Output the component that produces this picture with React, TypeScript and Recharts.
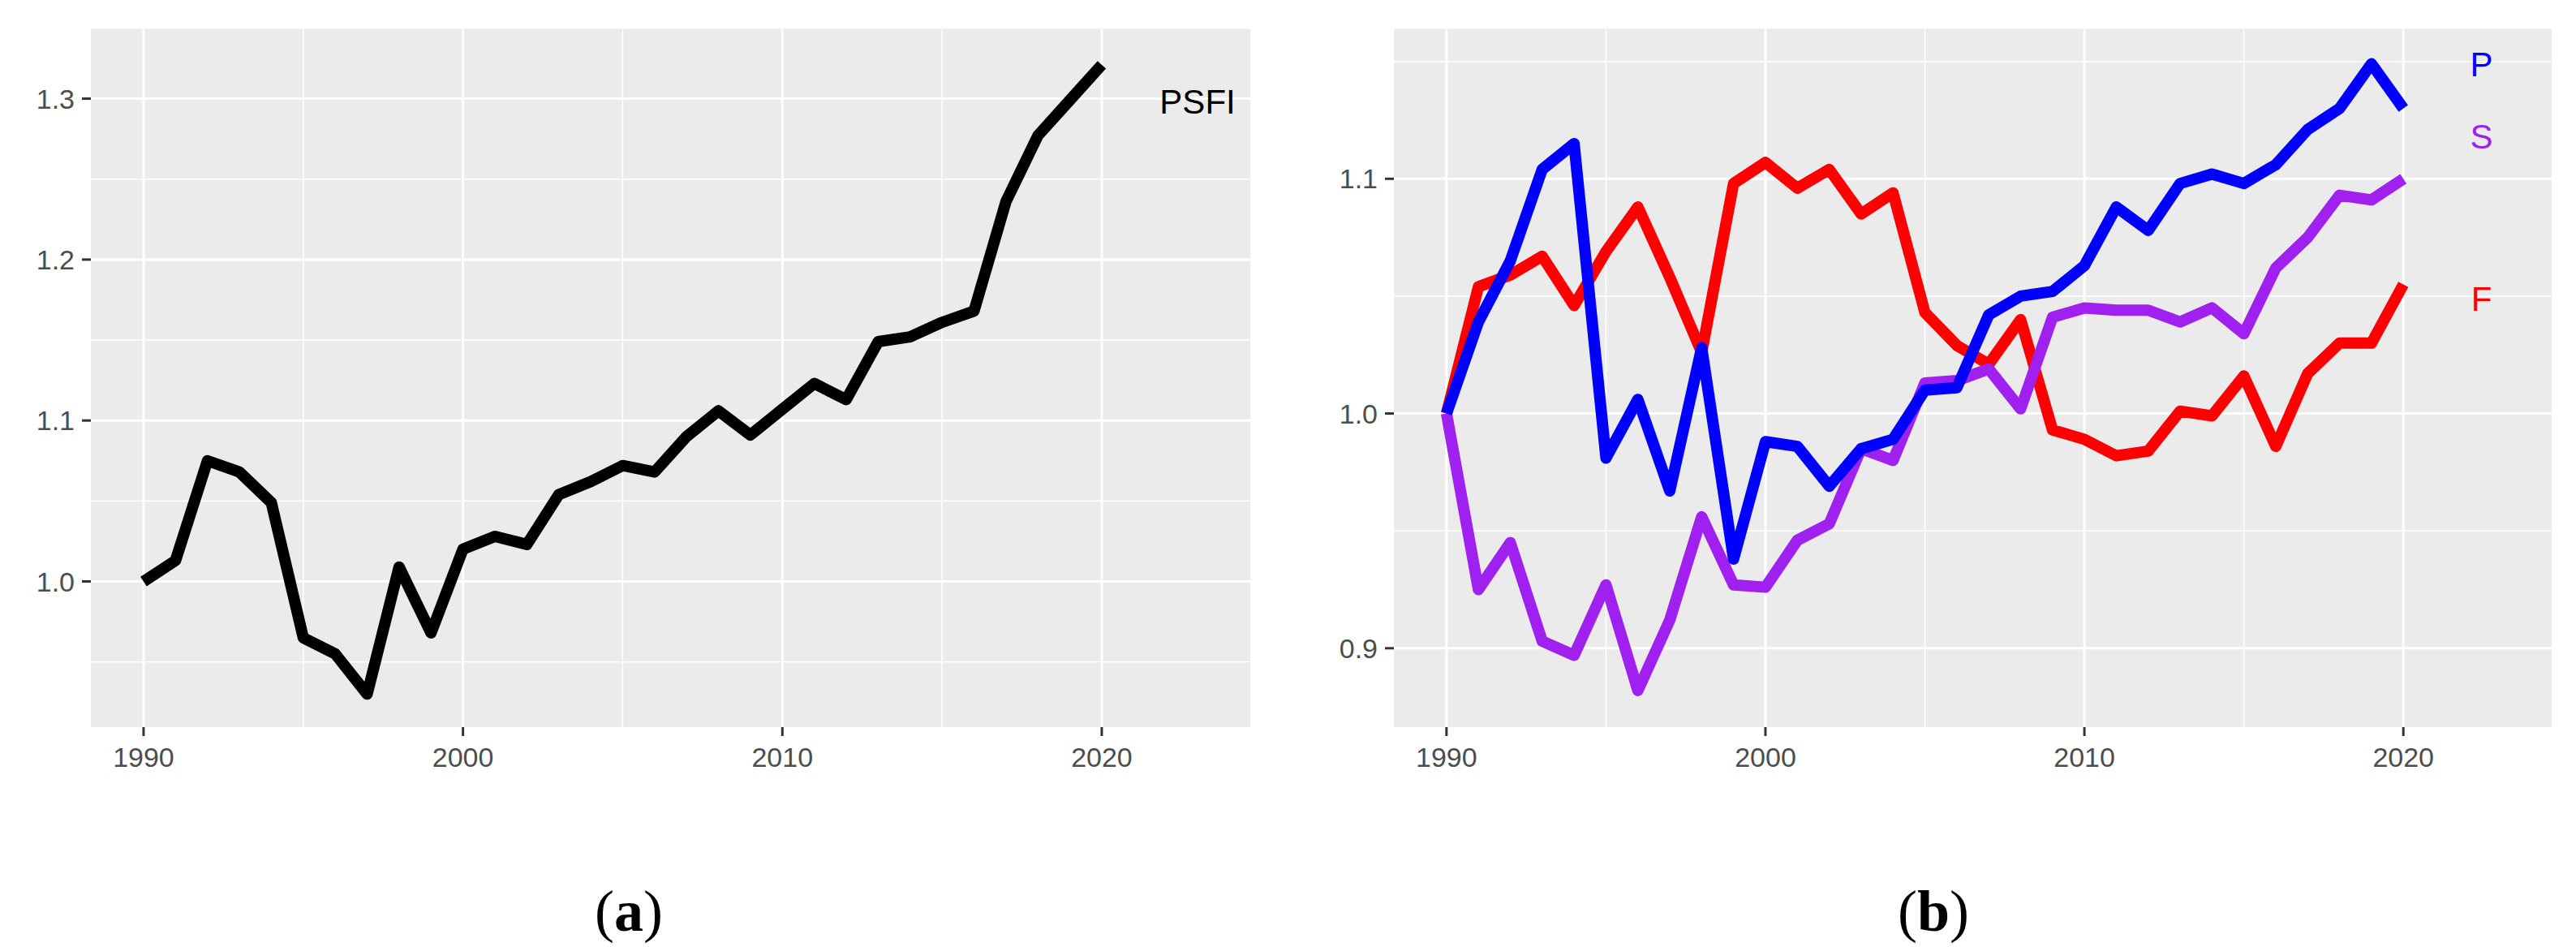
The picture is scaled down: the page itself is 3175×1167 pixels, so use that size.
import React from 'react';
import { LineChart, Line, XAxis, YAxis, CartesianGrid, ReferenceDot } from 'recharts';

const YEARS = [
  1990, 1991, 1992, 1993, 1994, 1995, 1996, 1997, 1998, 1999,
  2000, 2001, 2002, 2003, 2004, 2005, 2006, 2007, 2008, 2009,
  2010, 2011, 2012, 2013, 2014, 2015, 2016, 2017, 2018, 2019, 2020,
];

// panel (a)
const PSFI = [
  1.000, 1.013, 1.075, 1.068, 1.049, 0.965, 0.955, 0.930, 1.009, 0.968,
  1.020, 1.028, 1.023, 1.054, 1.062, 1.072, 1.068, 1.090, 1.106, 1.091,
  1.107, 1.123, 1.113, 1.149, 1.152, 1.161, 1.168, 1.236, 1.277, 1.299, 1.321,
];

// panel (b)
const P = [
  1.000, 1.039, 1.065, 1.104, 1.115, 0.981, 1.006, 0.967, 1.028, 0.938,
  0.988, 0.986, 0.969, 0.985, 0.989, 1.010, 1.011, 1.042, 1.050, 1.052,
  1.063, 1.088, 1.078, 1.098, 1.102, 1.098, 1.106, 1.121, 1.130, 1.149, 1.130,
];
const S = [
  1.000, 0.925, 0.945, 0.903, 0.897, 0.927, 0.882, 0.912, 0.956, 0.927,
  0.926, 0.946, 0.953, 0.985, 0.980, 1.013, 1.014, 1.019, 1.002, 1.041,
  1.045, 1.044, 1.044, 1.039, 1.045, 1.034, 1.062, 1.075, 1.093, 1.091, 1.100,
];
const F = [
  1.000, 1.054, 1.059, 1.067, 1.046, 1.069, 1.088, 1.058, 1.026, 1.098,
  1.107, 1.096, 1.104, 1.085, 1.094, 1.043, 1.029, 1.021, 1.040, 0.993,
  0.989, 0.982, 0.984, 1.001, 0.999, 1.016, 0.986, 1.017, 1.030, 1.030, 1.055,
];

const X_TICKS = [1990, 2000, 2010, 2020];
const X_MINOR = [1995, 2005, 2015];
const A_Y_TICKS = [1.0, 1.1, 1.2, 1.3];
const A_Y_MINOR = [0.95, 1.05, 1.15, 1.25];
const B_Y_TICKS = [0.9, 1.0, 1.1];
const B_Y_MINOR = [0.95, 1.05, 1.15];

const X_DOMAIN = [1988.35, 2024.65];
const A_Y_DOMAIN = [0.9095, 1.3434];
const B_Y_DOMAIN = [0.8664, 1.1639];

const dataA = YEARS.map((year, i) => ({ year, PSFI: PSFI[i] }));
const dataB = YEARS.map((year, i) => ({ year, P: P[i], S: S[i], F: F[i] }));

const SANS = '"Liberation Sans", Arial, Helvetica, sans-serif';
const SERIF = '"Liberation Serif", "Times New Roman", serif';
const tickStyle = { fill: '#4D4D4D', fontSize: 34, fontFamily: SANS };
const tickLineStyle = { stroke: '#333333', strokeWidth: 3 };
const LINE_W = 14;

const textLabel = (value: string, color: string) => ({
  value,
  position: 'center' as const,
  fill: color,
  fontSize: 42,
  fontFamily: SANS,
});

export default function App() {
  return (
    <div style={{ position: 'absolute', left: 0, top: 0, width: 3175, height: 1167, background: '#fff' }}>
      <div style={{ position: 'absolute', left: 0, top: 0 }}>
        <LineChart width={1590} height={960} data={dataA} margin={{ top: 35.5, right: 49, bottom: 4, left: 0 }}>
          <CartesianGrid horizontalValues={A_Y_MINOR} verticalValues={X_MINOR} stroke="#FFFFFF" strokeWidth={1.5} fill="#EBEBEB" />
          <CartesianGrid horizontalValues={A_Y_TICKS} verticalValues={X_TICKS} stroke="#FFFFFF" strokeWidth={3} />
          <XAxis dataKey="year" type="number" domain={X_DOMAIN} ticks={X_TICKS} interval={0} allowDataOverflow
            height={60} tickSize={11} tickMargin={14} axisLine={false} tickLine={tickLineStyle} tick={tickStyle} />
          <YAxis type="number" domain={A_Y_DOMAIN} ticks={A_Y_TICKS} interval={0} allowDataOverflow
            width={112} tickSize={11} tickMargin={9} axisLine={false} tickLine={tickLineStyle} tick={tickStyle}
            tickFormatter={(v: number) => v.toFixed(1)} />
          <Line type="linear" dataKey="PSFI" stroke="#000000" strokeWidth={LINE_W} strokeLinejoin="round"
            dot={false} activeDot={false} isAnimationActive={false} />
          <ReferenceDot x={2023} y={1.298} r={0} fill="none" stroke="none" label={textLabel('PSFI', '#000000')} />
        </LineChart>
      </div>
      <div style={{ position: 'absolute', left: 1600, top: 0 }}>
        <LineChart width={1575} height={960} data={dataB} margin={{ top: 35.5, right: 30, bottom: 4, left: 0 }}>
          <CartesianGrid horizontalValues={B_Y_MINOR} verticalValues={X_MINOR} stroke="#FFFFFF" strokeWidth={1.5} fill="#EBEBEB" />
          <CartesianGrid horizontalValues={B_Y_TICKS} verticalValues={X_TICKS} stroke="#FFFFFF" strokeWidth={3} />
          <XAxis dataKey="year" type="number" domain={X_DOMAIN} ticks={X_TICKS} interval={0} allowDataOverflow
            height={60} tickSize={11} tickMargin={14} axisLine={false} tickLine={tickLineStyle} tick={tickStyle} />
          <YAxis type="number" domain={B_Y_DOMAIN} ticks={B_Y_TICKS} interval={0} allowDataOverflow
            width={118} tickSize={11} tickMargin={9} axisLine={false} tickLine={tickLineStyle} tick={tickStyle}
            tickFormatter={(v: number) => v.toFixed(1)} />
          <Line type="linear" dataKey="F" stroke="#FF0000" strokeWidth={LINE_W} strokeLinejoin="round"
            dot={false} activeDot={false} isAnimationActive={false} />
          <Line type="linear" dataKey="S" stroke="#A020F0" strokeWidth={LINE_W} strokeLinejoin="round"
            dot={false} activeDot={false} isAnimationActive={false} />
          <Line type="linear" dataKey="P" stroke="#0000FF" strokeWidth={LINE_W} strokeLinejoin="round"
            dot={false} activeDot={false} isAnimationActive={false} />
          <ReferenceDot x={2022.45} y={1.149} r={0} fill="none" stroke="none" label={textLabel('P', '#0000FF')} />
          <ReferenceDot x={2022.45} y={1.118} r={0} fill="none" stroke="none" label={textLabel('S', '#A020F0')} />
          <ReferenceDot x={2022.45} y={1.049} r={0} fill="none" stroke="none" label={textLabel('F', '#FF0000')} />
        </LineChart>
      </div>
      <svg width={3175} height={1167} style={{ position: 'absolute', left: 0, top: 0, pointerEvents: 'none' }}>
        <text x={775} y={1147} textAnchor="middle" fontFamily={SERIF} fontSize={72} fill="#000">
          (<tspan fontWeight="bold">a</tspan>)
        </text>
        <text x={2383} y={1147} textAnchor="middle" fontFamily={SERIF} fontSize={72} fill="#000">
          (<tspan fontWeight="bold">b</tspan>)
        </text>
      </svg>
    </div>
  );
}
